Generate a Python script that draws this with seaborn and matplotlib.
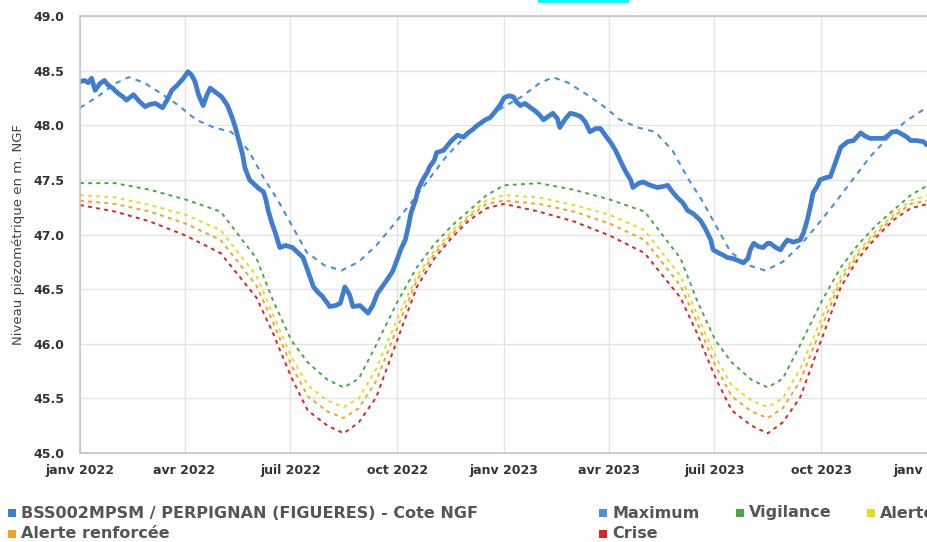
import matplotlib
matplotlib.use("Agg")
import matplotlib.pyplot as plt
from matplotlib.patches import Rectangle
import numpy as np
import pandas as pd
import seaborn as sns

# ---- data -----------------------------------------------------------------
start = pd.Timestamp("2022-01-01")

# daily groundwater level (days counted from 2022-01-01), m NGF
level_days = [0, 4, 7, 10, 13, 17, 21, 24, 28, 33, 37, 40, 46, 51, 56, 60, 65, 71, 75, 79,
              84, 89, 93, 96, 99, 102, 106, 109, 112, 117, 122, 127, 131, 134, 137, 140, 142,
              146, 151, 154, 158, 160, 162, 165, 168, 172, 177, 183, 187, 192, 196, 201, 205,
              209, 215, 220, 224, 228, 232, 235, 241, 245, 248, 252, 256, 260, 264, 269, 273,
              276, 280, 283, 285, 289, 291, 295, 299, 301, 305, 307, 313, 316, 319, 325, 330,
              334, 338, 341, 345, 349, 353, 357, 362, 365, 369, 373, 376, 379, 383, 388, 392,
              396, 399, 403, 407, 411, 413, 418, 422, 426, 431, 435, 439, 444, 448, 452, 457,
              461, 465, 469, 474, 476, 481, 485, 491, 497, 502, 506, 510, 514, 519, 523, 528,
              534, 538, 543, 545, 550, 554, 557, 562, 567, 571, 575, 577, 580, 584, 588, 592,
              594, 599, 603, 606, 609, 614, 620, 623, 626, 629, 631, 635, 637, 642, 646, 650,
              655, 661, 666, 672, 676, 680, 686, 692, 696, 699, 704, 709, 712, 715, 720, 726, 729]
level_values = [48.40, 48.41, 48.39, 48.43, 48.32, 48.38, 48.41, 48.37, 48.34, 48.29, 48.26,
                48.23, 48.28, 48.22, 48.17, 48.19, 48.20, 48.16, 48.23, 48.32, 48.37, 48.43,
                48.49, 48.46, 48.40, 48.28, 48.18, 48.27, 48.34, 48.30, 48.26, 48.18, 48.07,
                47.97, 47.85, 47.73, 47.61, 47.50, 47.45, 47.42, 47.39, 47.32, 47.22, 47.11,
                47.02, 46.88, 46.90, 46.88, 46.84, 46.79, 46.67, 46.52, 46.47, 46.43, 46.34,
                46.35, 46.37, 46.52, 46.45, 46.34, 46.35, 46.31, 46.28, 46.35, 46.46, 46.52,
                46.58, 46.66, 46.77, 46.86, 46.95, 47.09, 47.20, 47.32, 47.41, 47.50, 47.57,
                47.62, 47.68, 47.75, 47.77, 47.81, 47.85, 47.91, 47.89, 47.93, 47.96, 47.99,
                48.02, 48.05, 48.07, 48.12, 48.19, 48.25, 48.27, 48.26, 48.21, 48.18, 48.20,
                48.16, 48.13, 48.09, 48.05, 48.08, 48.11, 48.06, 47.98, 48.06, 48.11, 48.10,
                48.08, 48.03, 47.94, 47.97, 47.97, 47.91, 47.84, 47.77, 47.68, 47.59, 47.50,
                47.43, 47.47, 47.48, 47.45, 47.43, 47.44, 47.45, 47.39, 47.34, 47.29, 47.22,
                47.19, 47.13, 47.06, 46.95, 46.86, 46.83, 46.81, 46.79, 46.78, 46.76, 46.74,
                46.78, 46.86, 46.92, 46.89, 46.88, 46.92, 46.92, 46.88, 46.86, 46.91, 46.95,
                46.93, 46.95, 47.02, 47.13, 47.27, 47.38, 47.45, 47.50, 47.52, 47.53, 47.65,
                47.80, 47.85, 47.86, 47.93, 47.90, 47.88, 47.88, 47.88, 47.91, 47.94, 47.94,
                47.91, 47.89, 47.86, 47.86, 47.85, 47.82]

# yearly reference curves (day of year)
max_doy = [0, 15, 30, 42, 55, 70, 85, 100, 115, 130, 145, 158, 170, 182, 195, 210, 225,
           240, 255, 270, 285, 300, 315, 330, 345, 365]
max_values = [48.16, 48.26, 48.38, 48.44, 48.39, 48.29, 48.18, 48.05, 47.98, 47.94, 47.77,
              47.52, 47.32, 47.09, 46.84, 46.72, 46.67, 46.75, 46.90, 47.09, 47.29, 47.50,
              47.71, 47.88, 48.03, 48.17]

thr_doy = [0, 30, 60, 91, 121, 152, 166, 182, 196, 213, 227, 240, 255, 274, 290, 305, 320,
           335, 350, 365]
vigilance = [47.47, 47.47, 47.41, 47.32, 47.21, 46.78, 46.40, 46.03, 45.83, 45.67, 45.60,
             45.68, 45.99, 46.40, 46.70, 46.91, 47.08, 47.22, 47.36, 47.45]
alerte = [47.36, 47.34, 47.27, 47.18, 47.04, 46.62, 46.27, 45.88, 45.62, 45.48, 45.42,
          45.50, 45.77, 46.25, 46.62, 46.85, 47.03, 47.18, 47.31, 47.36]
alerte_renforcee = [47.31, 47.28, 47.21, 47.10, 46.95, 46.53, 46.20, 45.80, 45.52, 45.38,
                    45.32, 45.41, 45.66, 46.17, 46.58, 46.82, 47.00, 47.16, 47.28, 47.31]
crise = [47.27, 47.21, 47.12, 46.99, 46.83, 46.42, 46.10, 45.69, 45.39, 45.25, 45.18,
         45.28, 45.51, 46.06, 46.52, 46.78, 46.97, 47.13, 47.24, 47.28]

years_shown = 2

tick_dates = ["2022-01-01", "2022-04-01", "2022-07-01", "2022-10-01", "2023-01-01",
              "2023-04-01", "2023-07-01", "2023-10-01", "2024-01-01"]
tick_labels = ["janv 2022", "avr 2022", "juil 2022", "oct 2022", "janv 2023",
               "avr 2023", "juil 2023", "oct 2023", "janv 2024"]
y_ticks = [45.0, 45.5, 46.0, 46.5, 47.0, 47.5, 48.0, 48.5, 49.0]

series_label = "BSS002MPSM / PERPIGNAN (FIGUERES) - Cote NGF"
colors = {
    "level": "#3f7dd0",
    "Maximum": "#4a8fdc",
    "Vigilance": "#46a846",
    "Alerte": "#e6dc1e",
    "Alerte renforcée": "#f2a22a",
    "Crise": "#dd2222",
}


def repeat_years(doy, values):
    d = list(doy)
    v = list(values)
    for k in range(1, years_shown):
        d += [x + 365 * k for x in doy[1:]]
        v += list(values[1:])
    return pd.DataFrame({"date": start + pd.to_timedelta(d, unit="D"), "value": v})


level_df = pd.DataFrame({"date": start + pd.to_timedelta(level_days, unit="D"),
                         "value": level_values})

# ---- figure ---------------------------------------------------------------
sns.set_theme(style="white")
plt.rcParams["font.family"] = ["DejaVu Sans"]

W, H = 927, 542
fig = plt.figure(figsize=(W / 100, H / 100), dpi=100)
ax = fig.add_axes([80 / W, 1 - 453 / H, (928 - 80) / W, (453 - 16) / H])

thresholds = [("Crise", crise), ("Alerte renforcée", alerte_renforcee),
              ("Alerte", alerte), ("Vigilance", vigilance)]
for name, vals in thresholds:
    sns.lineplot(data=repeat_years(thr_doy, vals), x="date", y="value", ax=ax,
                 color=colors[name], lw=1.4, estimator=None)
    ax.lines[-1].set_linestyle((0, (2.0, 2.2)))

sns.lineplot(data=repeat_years(max_doy, max_values), x="date", y="value", ax=ax,
             color=colors["Maximum"], lw=1.5, estimator=None)
ax.lines[-1].set_linestyle((0, (2.6, 2.6)))

sns.lineplot(data=level_df, x="date", y="value", ax=ax, color=colors["level"],
             lw=3.4, estimator=None)
ax.lines[-1].set_solid_joinstyle("round")

ax.set_xlim(pd.Timestamp(tick_dates[0]), pd.Timestamp(tick_dates[-1]))
ax.set_ylim(45.0, 49.0)
ax.set_xticks(pd.to_datetime(tick_dates))
ax.set_xticklabels(tick_labels)
ax.set_yticks(y_ticks)
ax.set_yticklabels([f"{v:.1f}" for v in y_ticks])
ax.set_xlabel("")
ax.set_ylabel("Niveau piézométrique en m. NGF", fontsize=9.5, color="#444444", labelpad=6)

for lab in ax.get_xticklabels() + ax.get_yticklabels():
    lab.set_fontweight("bold")
    lab.set_fontsize(9)
    lab.set_color("#333333")
ax.tick_params(axis="x", length=0, pad=8)
ax.tick_params(axis="y", length=0, pad=11)

ax.grid(True, color="#e4e4e4", lw=1.0)
ax.set_axisbelow(True)
for side in ["left", "bottom", "top"]:
    ax.spines[side].set_color("#c4c4c4")
    ax.spines[side].set_linewidth(1.2)
ax.spines["right"].set_visible(False)

# ---- legend ---------------------------------------------------------------
legend_items = [
    (series_label, colors["level"], 12, 513),
    ("Alerte renforcée", colors["Alerte renforcée"], 12, 534),
    ("Maximum", colors["Maximum"], 603, 513),
    ("Crise", colors["Crise"], 603, 534),
    ("Vigilance", colors["Vigilance"], 740, 513),
    ("Alerte", colors["Alerte"], 871, 513),
]
for text, col, px, py in legend_items:
    fig.patches.append(Rectangle(((px - 4) / W, 1 - (py + 4) / H), 8 / W, 8 / H,
                                 transform=fig.transFigure, color=col, lw=0))
    fig.text((px + 9) / W, 1 - py / H, text, fontsize=11.5, fontweight="bold",
             color="#555555", va="center", ha="left")

# highlight strip at the top edge
fig.patches.append(Rectangle((538 / W, 1 - 3 / H), 91 / W, 3 / H,
                             transform=fig.transFigure, color="#00ffff", lw=0))

fig.savefig("out.png", dpi=100)
